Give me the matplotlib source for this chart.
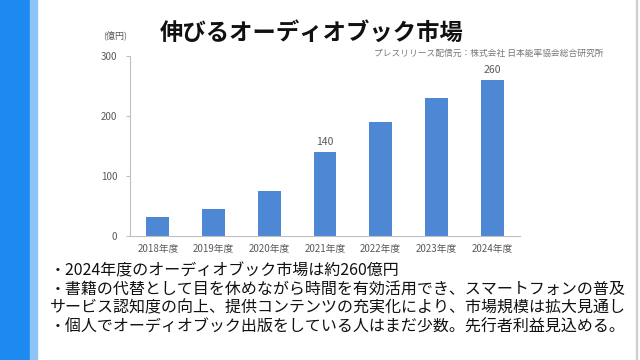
import matplotlib
matplotlib.use("Agg")

import numpy as np
import matplotlib.pyplot as plt
from matplotlib.patches import Rectangle

plt.rcParams["font.family"] = ["Noto Sans CJK JP", "DejaVu Sans"]

years = ["2018年度", "2019年度", "2020年度", "2021年度", "2022年度", "2023年度", "2024年度"]
market = [32, 45, 75, 140, 190, 230, 260]
labelled = {3: "140", 6: "260"}
y_ticks = [0, 100, 200, 300]

title = "伸びるオーディオブック市場"
unit = "(億円)"
source = "プレスリリース配信元：株式会社 日本能率協会総合研究所"
notes = [
    "・2024年度のオーディオブック市場は約260億円",
    "・書籍の代替として目を休めながら時間を有効活用でき、スマートフォンの普及",
    "サービス認知度の向上、提供コンテンツの充実化により、市場規模は拡大見通し",
    "・個人でオーディオブック出版をしている人はまだ少数。先行者利益見込める。",
]

BAR = "#4E88D4"
GRAY = "#595959"

fig = plt.figure(figsize=(6.4, 3.6), dpi=100)
fig.patch.set_facecolor("white")

# left blue band and thin right border
fig.patches.append(Rectangle((0, 0), 30 / 640, 1, transform=fig.transFigure,
                             color="#1C8AF0", zorder=0))
fig.patches.append(Rectangle((30 / 640, 0), 7 / 640, 1, transform=fig.transFigure,
                             color="#8EC4F5", zorder=0))
fig.patches.append(Rectangle((636 / 640, 0), 1 / 640, 1, transform=fig.transFigure,
                             color="#D0D0D0", zorder=0))

ax = fig.add_axes([130 / 640, 1 - 236 / 360, 390 / 640, 180.3 / 360])
x = np.arange(len(years))
ax.bar(x, market, width=0.41, color=BAR, zorder=2)
for i, txt in labelled.items():
    ax.text(x[i], market[i] + 8, txt, ha="center", va="bottom", fontsize=7.5, color=GRAY)

ax.set_xlim(-0.5, len(years) - 0.5)
ax.set_ylim(0, 300)
ax.set_yticks(y_ticks)
ax.set_yticklabels([str(v) for v in y_ticks], fontsize=7, color=GRAY)
ax.set_xticks(x)
ax.set_xticklabels(years, fontsize=7, color=GRAY)
ax.tick_params(axis="x", length=0, pad=6)
ax.tick_params(axis="y", length=3, color="#BFBFBF", pad=6)
for s in ["top", "right"]:
    ax.spines[s].set_visible(False)
ax.spines["left"].set_color("#BFBFBF")
ax.spines["bottom"].set_color("#BFBFBF")
ax.set_facecolor("none")

fig.text(115 / 640, 1 - 35 / 360, unit, fontsize=6.5, color=GRAY, ha="center", va="center")
fig.text(160 / 640, 1 - 33 / 360, title, fontsize=16.8, fontweight="bold", color="#111111",
         ha="left", va="center")
fig.text(604 / 640, 1 - 53 / 360, source, fontsize=6.3, color="#777777", ha="right", va="center")

for k, line in enumerate(notes):
    fig.text(50 / 640, 1 - (270.5 + 18.9 * k) / 360, line, fontsize=11.5, color="#111111",
             ha="left", va="center")

fig.savefig("out.png", dpi=100)
